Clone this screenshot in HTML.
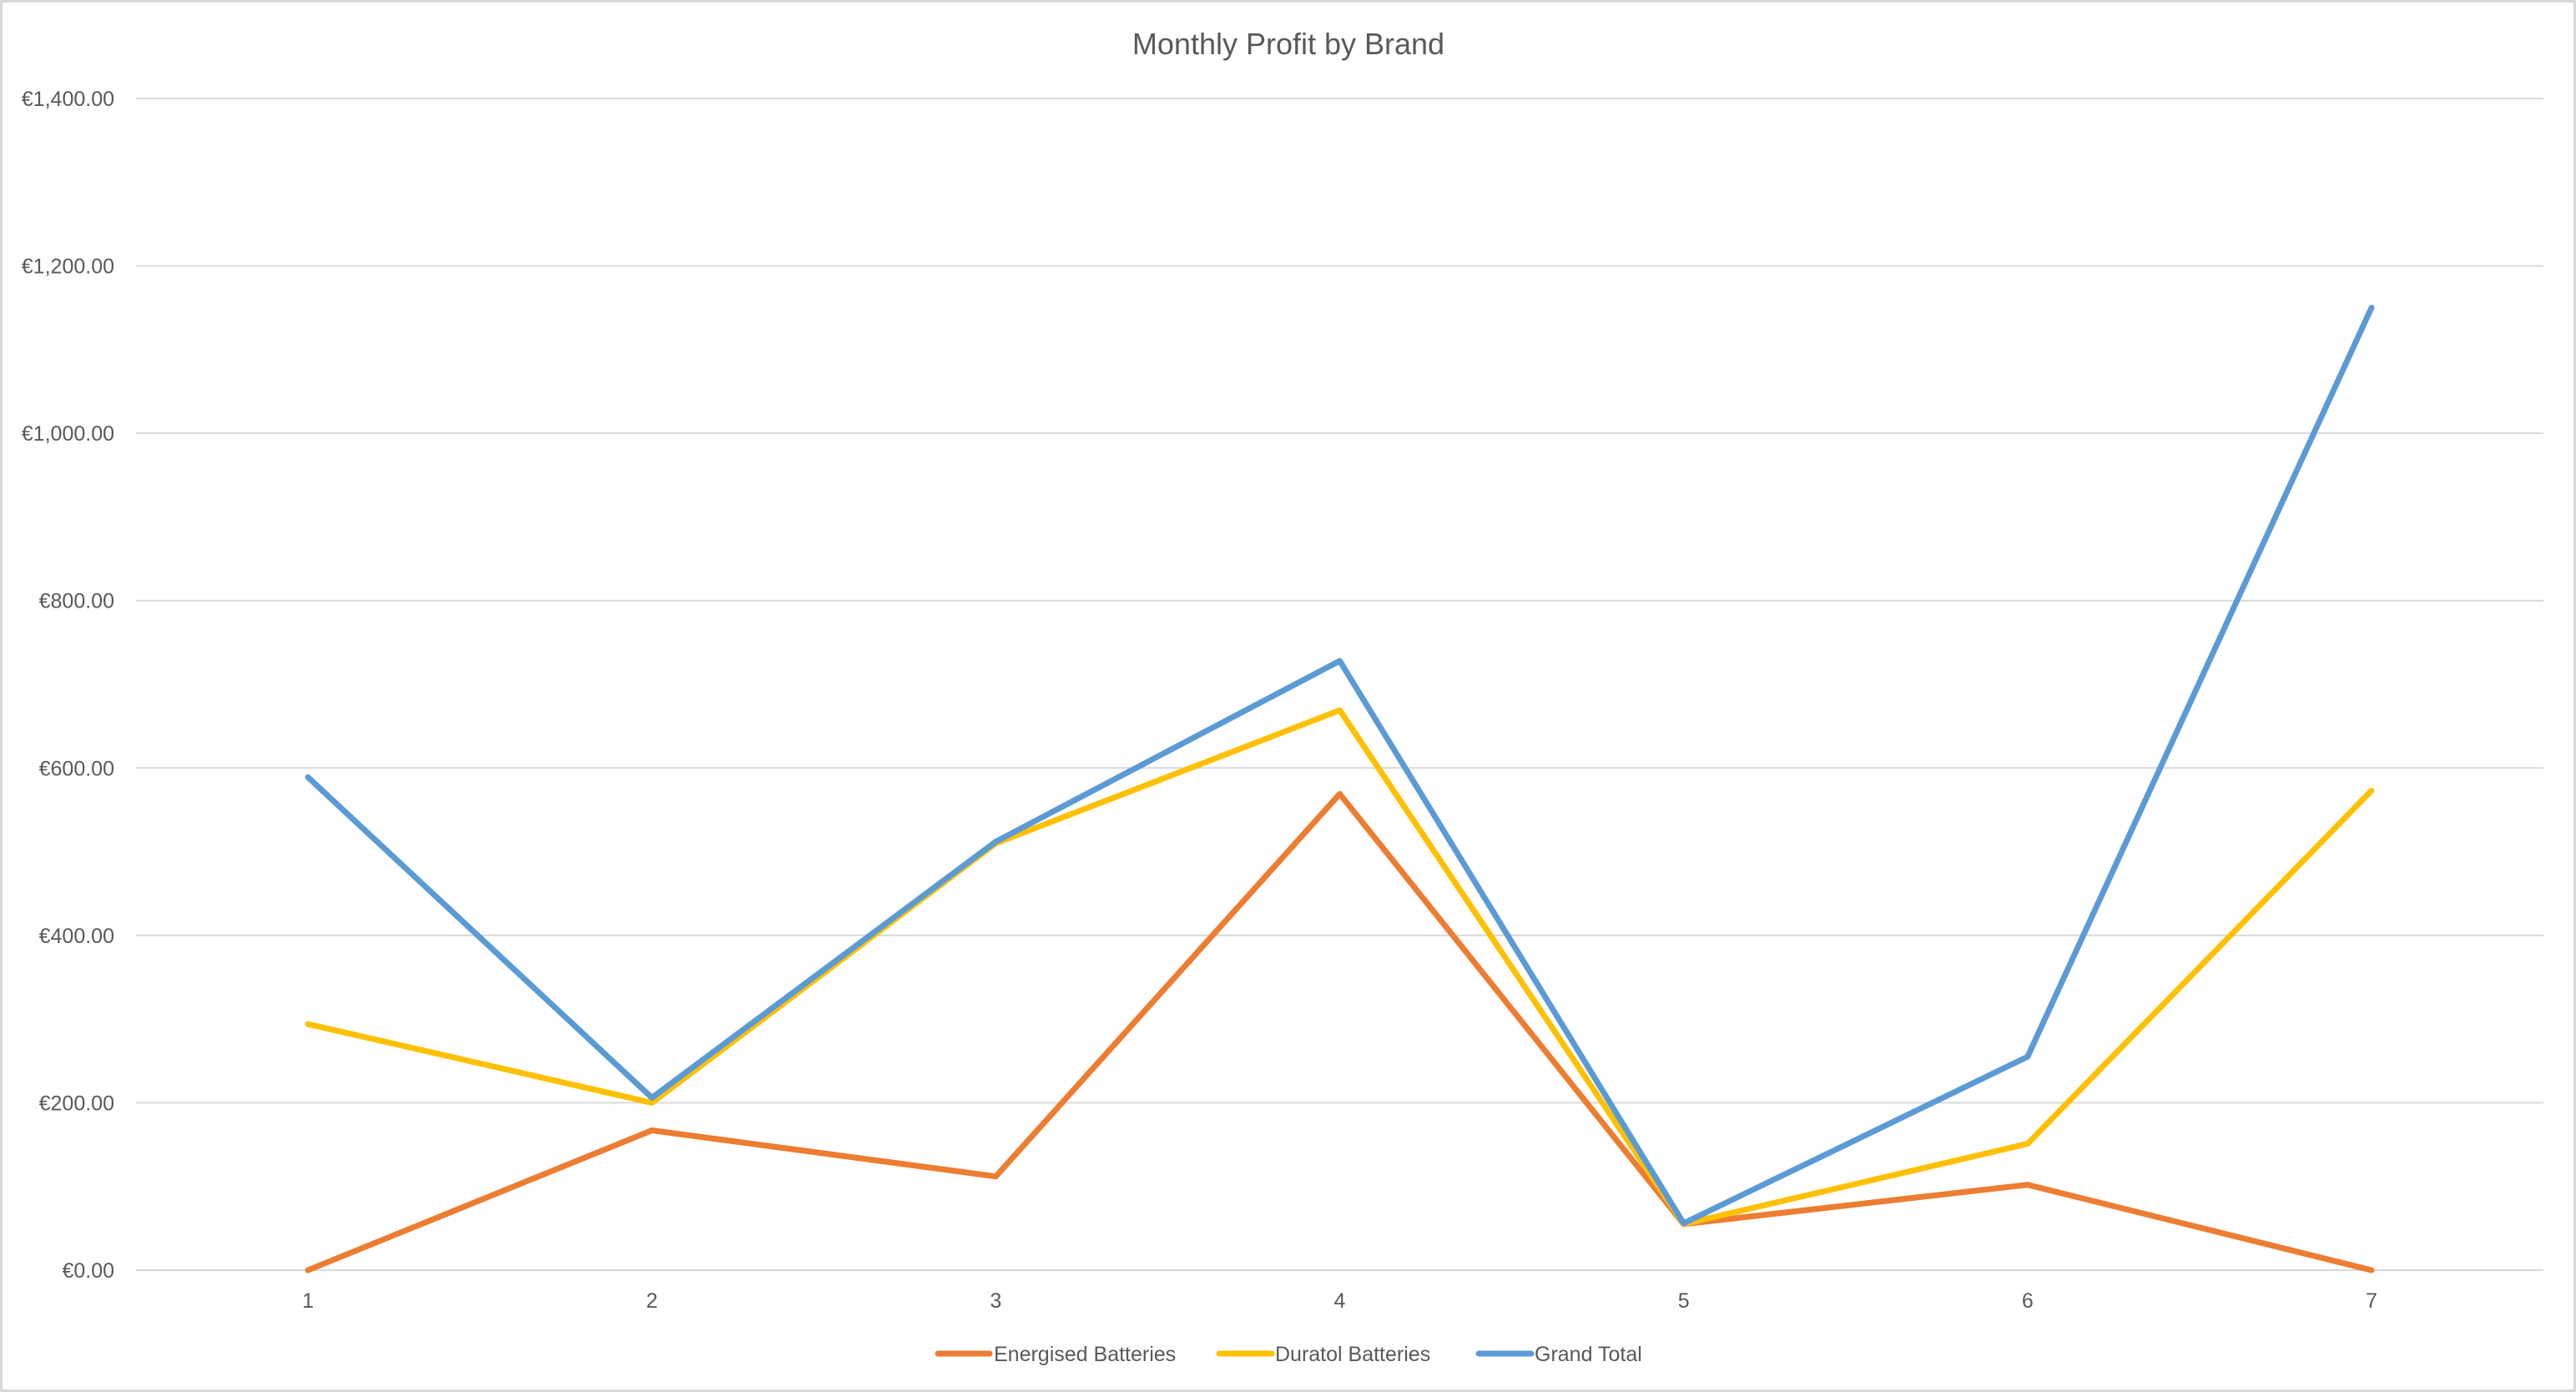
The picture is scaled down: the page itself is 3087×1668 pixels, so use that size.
<!DOCTYPE html>
<html><head><meta charset="utf-8"><style>
html,body{margin:0;padding:0;background:#fff;}
svg{display:block;font-family:"Liberation Sans",sans-serif;}
</style></head><body>
<svg id="chart" width="3087" height="1668" viewBox="0 0 3087 1668">
<rect x="1.5" y="1.5" width="3084" height="1665" fill="#fff" stroke="#d9d9d9" stroke-width="3"/>
<text x="1544" y="65" font-size="36" fill="#595959" text-anchor="middle">Monthly Profit by Brand</text>
<g id="grid"></g><g id="series"></g><g id="xt"></g>
<g>
<g><line x1="1124" y1="1622" x2="1186" y2="1622" stroke="#ED7D31" stroke-width="7" stroke-linecap="round"/><text x="1191" y="1631" font-size="25" fill="#595959">Energised Batteries</text></g>
<g><line x1="1461" y1="1622" x2="1524" y2="1622" stroke="#FFC000" stroke-width="7" stroke-linecap="round"/><text x="1528" y="1631" font-size="25" fill="#595959">Duratol Batteries</text></g>
<g><line x1="1772" y1="1622" x2="1835" y2="1622" stroke="#5B9BD5" stroke-width="7" stroke-linecap="round"/><text x="1839" y="1631" font-size="25" fill="#595959">Grand Total</text></g>
</g>
</svg>
<script>
const categories = ["1","2","3","4","5","6","7"];
const energised = [0,167,112,569,55,102,0];
const duratol = [294,200,510,669,55,151,573];
const grandTotal = [589,206,512,728,56,255,1150];
const yTicks = [0,200,400,600,800,1000,1200,1400];
const yTickLabels = ["€0.00","€200.00","€400.00","€600.00","€800.00","€1,000.00","€1,200.00","€1,400.00"];

const NS="http://www.w3.org/2000/svg";
const L=163,R=3048,T=118,B=1522,YMAX=1400;
const y=v=>B-(v/YMAX)*(B-T);
const step=(R-L)/categories.length;
const x=i=>L+step*(i+0.5);
const grid=document.getElementById('grid');
yTicks.forEach((t,i)=>{
  const ln=document.createElementNS(NS,'line');
  ln.setAttribute('x1',L);ln.setAttribute('x2',R);ln.setAttribute('y1',y(t));ln.setAttribute('y2',y(t));
  ln.setAttribute('stroke','#d9d9d9');ln.setAttribute('stroke-width','2');
  
  
  grid.appendChild(ln);
  const tx=document.createElementNS(NS,'text');
  tx.setAttribute('x',137);tx.setAttribute('y',y(t)+9);tx.setAttribute('text-anchor','end');
  tx.setAttribute('font-size','25');tx.setAttribute('fill','#595959');
  tx.textContent=yTickLabels[i];
  
  
  grid.appendChild(tx);
});
const xt=document.getElementById('xt');
categories.forEach((c,i)=>{
  const tx=document.createElementNS(NS,'text');
  tx.setAttribute('x',x(i));tx.setAttribute('y',1567);tx.setAttribute('text-anchor','middle');
  tx.setAttribute('font-size','25');tx.setAttribute('fill','#595959');
  tx.textContent=c;
  
  
  xt.appendChild(tx);
});
const sg=document.getElementById('series');
[[energised,'#ED7D31','series-energised-batteries'],[duratol,'#FFC000','series-duratol-batteries'],[grandTotal,'#5B9BD5','series-grand-total']].forEach(([d,col,name])=>{
  const p=document.createElementNS(NS,'polyline');
  p.setAttribute('points',d.map((v,i)=>x(i)+','+y(v)).join(' '));
  p.setAttribute('fill','none');p.setAttribute('stroke',col);p.setAttribute('stroke-width','7');
  p.setAttribute('stroke-linejoin','round');p.setAttribute('stroke-linecap','round');
  
  
  sg.appendChild(p);
});
</script>
</body></html>
